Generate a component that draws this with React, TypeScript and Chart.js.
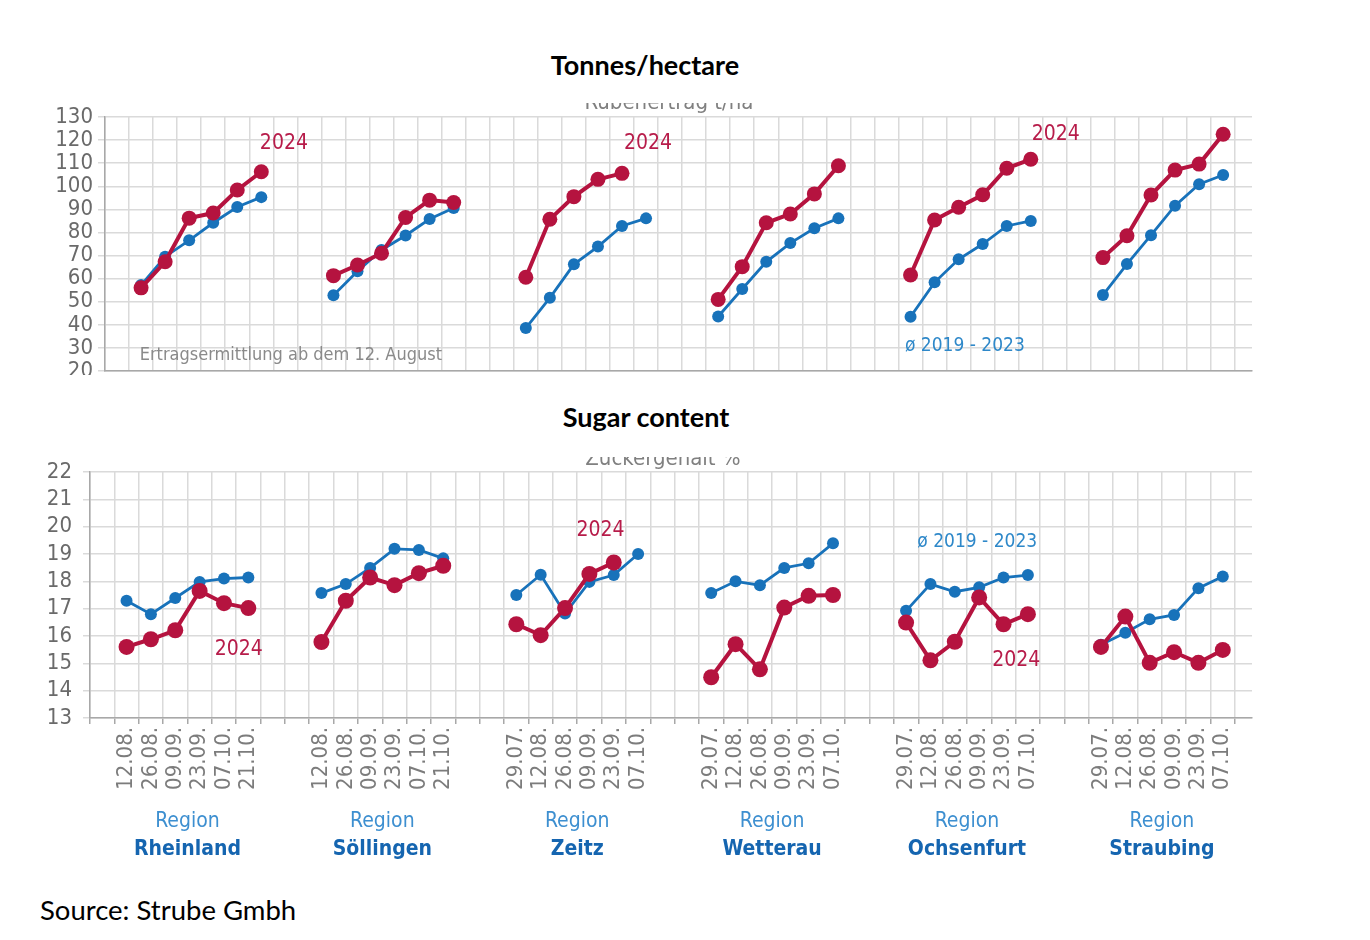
import React, { useEffect, useRef } from "react";
import { Chart, registerables } from "chart.js";

Chart.register(...registerables);

// ---------- data ----------
const REGIONS = ["Rheinland", "Söllingen", "Zeitz", "Wetterau", "Ochsenfurt", "Straubing"];
const REGION_PREFIX = "Region";
const DATES_FROM_AUG = ["12.08.", "26.08.", "09.09.", "23.09.", "07.10.", "21.10."];
const DATES_FROM_JUL = ["29.07.", "12.08.", "26.08.", "09.09.", "23.09.", "07.10."];
const REGION_DATES = [DATES_FROM_AUG, DATES_FROM_AUG, DATES_FROM_JUL, DATES_FROM_JUL, DATES_FROM_JUL, DATES_FROM_JUL];

// Tonnes/hectare
const YIELD_AVG = [
  [57.2, 69.5, 76.6, 84.2, 91.0, 95.3],
  [52.8, 63.2, 72.4, 78.7, 85.8, 90.6],
  [38.6, 51.7, 66.2, 73.9, 82.8, 86.1],
  [43.6, 55.5, 67.3, 75.4, 81.8, 86.1],
  [43.5, 58.4, 68.4, 75.0, 82.8, 85.0],
  [52.9, 66.3, 78.8, 91.6, 100.9, 104.9],
];
const YIELD_2024 = [
  [56.0, 67.3, 86.2, 88.4, 98.4, 106.3],
  [61.3, 65.9, 71.0, 86.5, 94.0, 93.0],
  [60.6, 85.7, 95.5, 103.0, 105.6, null],
  [51.0, 65.2, 84.2, 88.0, 96.7, 108.9],
  [61.6, 85.4, 90.9, 96.3, 107.8, 111.7],
  [69.1, 78.6, 96.2, 107.0, 109.6, 122.5],
];

// Sugar content %
const SUGAR_AVG = [
  [17.29, 16.8, 17.39, 17.98, 18.1, 18.14],
  [17.57, 17.9, 18.49, 19.19, 19.15, 18.84],
  [17.5, 18.24, 16.82, 17.98, 18.23, 19.0],
  [17.57, 18.0, 17.86, 18.49, 18.66, 19.39],
  [16.92, 17.9, 17.62, 17.78, 18.14, 18.23],
  [15.68, 16.12, 16.61, 16.77, 17.75, 18.18],
];
const SUGAR_2024 = [
  [15.6, 15.88, 16.21, 17.65, 17.2, 17.02],
  [15.78, 17.29, 18.14, 17.86, 18.3, 18.57],
  [16.43, 16.03, 17.02, 18.27, 18.69, null],
  [14.49, 15.7, 14.78, 17.04, 17.47, 17.5],
  [16.49, 15.11, 15.79, 17.41, 16.43, 16.8],
  [15.6, 16.71, 15.02, 15.41, 15.02, 15.49],
];

const YIELD_MIN = 20;
const YIELD_MAX = 130;
const YIELD_STEP = 10;
const SUGAR_MIN = 13;
const SUGAR_MAX = 22;
const SUGAR_STEP = 1;

const LABEL_2024 = "2024";
const LABEL_AVG = "ø 2019 - 2023";
const LABEL_NOTE = "Ertragsermittlung ab dem 12. August";
const HEADER_YIELD = "Rübenertrag t/ha";
const HEADER_SUGAR = "Zuckergehalt %";

// annotation anchors (slot index, value)
const YIELD_NOTES = [
  { text: LABEL_2024, x: 6.94, y: 118.7, kind: "red" },
  { text: LABEL_2024, x: 22.08, y: 118.7, kind: "red" },
  { text: LABEL_2024, x: 39.04, y: 122.6, kind: "red" },
  { text: LABEL_AVG, x: 35.26, y: 30.8, kind: "blue" },
  { text: LABEL_NOTE, x: 7.23, y: 26.9, kind: "gray" },
];
const SUGAR_NOTES = [
  { text: LABEL_2024, x: 5.61, y: 15.52, kind: "red" },
  { text: LABEL_2024, x: 20.46, y: 19.86, kind: "red" },
  { text: LABEL_2024, x: 37.52, y: 15.12, kind: "red" },
  { text: LABEL_AVG, x: 35.92, y: 19.45, kind: "blue" },
];

// ---------- styling ----------
const RED = "#b5133f";
const BLUE = "#1872ba";
const RED_TEXT = "#b71c4a";
const BLUE_TEXT = "#2e88c9";
const GRAY_TEXT = "#8a8a8a";
const GRID = "#dadada";
const AXIS = "#a8a8a8";
const COND = "'DejaVu Sans Condensed', 'DejaVu Sans', sans-serif";
const SLOTS = 8;
const X_MIN = -0.5;
const X_MAX = 47.2;

const NOTE_STYLE: Record<string, { color: string; font: string }> = {
  red: { color: RED_TEXT, font: `21px ${COND}` },
  blue: { color: BLUE_TEXT, font: `19px ${COND}` },
  gray: { color: GRAY_TEXT, font: `18px ${COND}` },
};

function toPoints(groups: (number | null)[][]) {
  const pts: { x: number; y: number | null }[] = [];
  groups.forEach((vals, g) => {
    vals.forEach((v, i) => pts.push({ x: g * SLOTS + 1 + i, y: v }));
    pts.push({ x: g * SLOTS + SLOTS - 1, y: null });
  });
  return pts;
}

function gridTicks(scale: any) {
  const t: { value: number }[] = [];
  for (let v = X_MIN; v <= X_MAX; v += 1) t.push({ value: v });
  scale.ticks = t;
}

const DATE_BY_SLOT = new Map<number, string>();
REGION_DATES.forEach((dates, g) => dates.forEach((d, i) => DATE_BY_SLOT.set(g * SLOTS + 1 + i, d)));

function labelTicks(scale: any) {
  scale.ticks = Array.from(DATE_BY_SLOT.keys()).map((v) => ({ value: v }));
}

function datasets(avg: (number | null)[][], cur: (number | null)[][], big: boolean) {
  return [
    {
      label: "2024",
      data: toPoints(cur),
      borderColor: RED,
      backgroundColor: RED,
      pointBackgroundColor: RED,
      borderWidth: 4,
      pointRadius: big ? 8 : 7.5,
      pointHoverRadius: big ? 8 : 7.5,
      pointBorderWidth: 0,
      spanGaps: false,
      tension: 0,
    },
    {
      label: "ø 2019 - 2023",
      data: toPoints(avg),
      borderColor: BLUE,
      backgroundColor: BLUE,
      pointBackgroundColor: BLUE,
      borderWidth: 2.8,
      pointRadius: 6,
      pointHoverRadius: 6,
      pointBorderWidth: 0,
      spanGaps: false,
      tension: 0,
    },
  ];
}

function notesPlugin(notes: typeof YIELD_NOTES, header: string, headerX: number, headerY: number) {
  return {
    id: "notes",
    afterDatasetsDraw(chart: any) {
      const { ctx, scales } = chart;
      ctx.save();
      ctx.textAlign = "center";
      ctx.textBaseline = "middle";
      notes.forEach((n) => {
        const st = NOTE_STYLE[n.kind];
        ctx.font = st.font;
        ctx.fillStyle = st.color;
        ctx.fillText(n.text, scales.x.getPixelForValue(n.x), scales.y.getPixelForValue(n.y));
      });
      ctx.font = `22px ${COND}`;
      ctx.fillStyle = "#808080";
      ctx.textBaseline = "alphabetic";
      ctx.fillText(header, headerX, headerY);
      ctx.restore();
    },
  };
}

const regionPlugin = {
  id: "regions",
  afterDraw(chart: any) {
    const { ctx, scales, chartArea } = chart;
    ctx.save();
    ctx.textAlign = "center";
    ctx.textBaseline = "middle";
    REGIONS.forEach((name, g) => {
      const cx = scales.x.getPixelForValue(g * SLOTS + 3.5);
      ctx.font = `21px ${COND}`;
      ctx.fillStyle = "#3d8fd0";
      ctx.fillText(REGION_PREFIX, cx, chartArea.bottom + 104);
      ctx.font = `bold 21px ${COND}`;
      ctx.fillStyle = "#1565b0";
      ctx.fillText(name, cx, chartArea.bottom + 132);
    });
    ctx.restore();
  },
};

function yAxis(min: number, max: number, step: number, width: number, pad: number) {
  return {
    min,
    max,
    ticks: {
      stepSize: step,
      autoSkip: false,
      color: "#6a6a6a",
      padding: pad,
      font: { family: COND, size: 22 },
    },
    grid: { color: GRID, lineWidth: 1.5, tickLength: 7, drawTicks: true, tickColor: GRID },
    border: { display: true, color: AXIS, width: 1.5 },
    afterFit(scale: any) {
      scale.width = width;
      scale.paddingTop = 0;
      scale.paddingBottom = 0;
    },
  };
}

function TopChart() {
  const ref = useRef<HTMLCanvasElement>(null);
  useEffect(() => {
    const chart = new Chart(ref.current!, {
      type: "line",
      data: { datasets: datasets(YIELD_AVG, YIELD_2024, false) as any },
      options: {
        animation: false,
        responsive: false,
        maintainAspectRatio: false,
        layout: { autoPadding: false, padding: { top: 14, right: 118, bottom: 4, left: 0 } },
        plugins: { legend: { display: false }, tooltip: { enabled: false }, title: { display: false } },
        scales: {
          x: {
            type: "linear",
            min: X_MIN,
            max: X_MAX,
            afterBuildTicks: gridTicks,
            ticks: { display: false },
            grid: { color: GRID, lineWidth: 1.5, drawTicks: false },
            border: { display: true, color: AXIS, width: 1.5 },
            afterFit(scale: any) {
              scale.height = 0;
              scale.paddingLeft = 0;
              scale.paddingRight = 0;
            },
          },
          y: yAxis(YIELD_MIN, YIELD_MAX, YIELD_STEP, 105, 5) as any,
        },
      },
      plugins: [notesPlugin(YIELD_NOTES, HEADER_YIELD, 669, 6)],
    });
    return () => chart.destroy();
  }, []);
  return (
    <canvas
      ref={ref}
      width={1370}
      height={272}
      style={{ position: "absolute", left: 0, top: 103, width: 1370, height: 272 }}
    />
  );
}

function BottomChart() {
  const ref = useRef<HTMLCanvasElement>(null);
  useEffect(() => {
    const chart = new Chart(ref.current!, {
      type: "line",
      data: { datasets: datasets(SUGAR_AVG, SUGAR_2024, true) as any },
      options: {
        animation: false,
        responsive: false,
        maintainAspectRatio: false,
        layout: { autoPadding: false, padding: { top: 15, right: 118, bottom: 76, left: 0 } },
        plugins: { legend: { display: false }, tooltip: { enabled: false }, title: { display: false } },
        scales: {
          x: {
            type: "linear",
            position: "bottom",
            min: X_MIN,
            max: X_MAX,
            afterBuildTicks: gridTicks,
            ticks: { display: false },
            grid: { color: GRID, lineWidth: 1.5, drawTicks: true, tickLength: 6, tickColor: AXIS },
            border: { display: true, color: AXIS, width: 1.5 },
            afterFit(scale: any) {
              scale.height = 6;
              scale.paddingLeft = 0;
              scale.paddingRight = 0;
            },
          },
          x2: {
            type: "linear",
            position: "bottom",
            min: X_MIN,
            max: X_MAX,
            afterBuildTicks: labelTicks,
            ticks: {
              autoSkip: false,
              minRotation: 90,
              maxRotation: 90,
              padding: 3,
              color: "#7c7c7c",
              font: { family: COND, size: 22 },
              callback: (v: any) => DATE_BY_SLOT.get(Math.round(Number(v))) ?? "",
            },
            grid: { display: false, drawTicks: false },
            border: { display: false },
            afterFit(scale: any) {
              scale.height = 70;
              scale.paddingLeft = 0;
              scale.paddingRight = 0;
            },
          },
          y: yAxis(SUGAR_MIN, SUGAR_MAX, SUGAR_STEP, 90, 11) as any,
        },
      },
      plugins: [notesPlugin(SUGAR_NOTES, HEADER_SUGAR, 663, 8), regionPlugin],
    });
    return () => chart.destroy();
  }, []);
  return (
    <canvas
      ref={ref}
      width={1370}
      height={413}
      style={{ position: "absolute", left: 0, top: 457, width: 1370, height: 413 }}
    />
  );
}

const titleStyle: React.CSSProperties = {
  position: "absolute",
  whiteSpace: "nowrap",
  fontFamily: "Lato, 'Open Sans', sans-serif",
  color: "#000",
  lineHeight: "27px",
};

export default function App() {
  return (
    <div
      style={{
        position: "absolute",
        left: 0,
        top: 0,
        width: 1370,
        height: 940,
        background: "#fff",
        overflow: "hidden",
      }}
    >
      <div style={{ ...titleStyle, left: 645, top: 51, fontSize: 27, fontWeight: 700, transform: "translateX(-50%)" }}>
        Tonnes/hectare
      </div>
      <div style={{ ...titleStyle, left: 646, top: 403, fontSize: 27, fontWeight: 700, transform: "translateX(-50%)" }}>
        Sugar content
      </div>
      <div style={{ ...titleStyle, left: 40, top: 896, fontSize: 27.5, fontWeight: 400 }}>Source: Strube Gmbh</div>
      <TopChart />
      <BottomChart />
    </div>
  );
}
